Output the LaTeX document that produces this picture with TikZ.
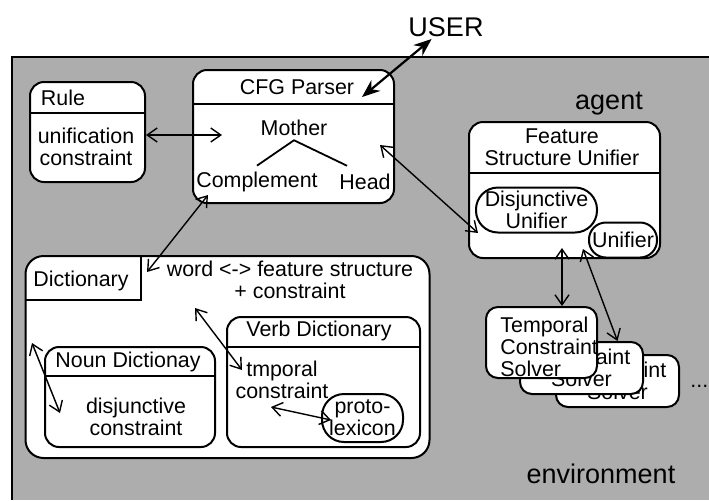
\documentclass[tikz,border=0pt]{standalone}
\usepackage{fontspec}
\setmainfont{Liberation Sans}
\usepackage{tikz}
\usetikzlibrary{arrows.meta}

\begin{document}
\begin{tikzpicture}[x=0.5pt,y=-0.5pt,
  every node/.style={font=\fontsize{10.7}{11}\selectfont,inner sep=1pt},
  unit/.style={draw,fill=white,line width=1pt,rounded corners=7pt},
  bubble/.style={draw,fill=white,line width=1pt,rounded corners=10pt,align=center,inner sep=0pt},
  big/.style={font=\fontsize{13.5}{15}\selectfont},
  link/.style={line width=0.7pt,{Straight Barb[length=5pt,width=7pt]}-{Straight Barb[length=5pt,width=7pt]}},
  userlink/.style={line width=1.1pt,{Stealth[length=9pt,width=7pt]}-{Stealth[length=9pt,width=7pt]}}]

\useasboundingbox (0,0) rectangle (709,500);
\fill[black!32] (12,57) rectangle (709,500);
\draw[line width=1pt] (12,500) -- (12,57) -- (709,57);

\node[big] (user) at (446,27) {USER};
\node[big] (agent) at (609,104) {agent};
\node[big] (env) at (601,474) {environment};

\node[unit,minimum width=57.5pt,minimum height=50pt] (rule) at (87.5,132) {};
\draw[line width=0.9pt] (rule.west |- 0,113) -- (rule.east |- 0,113);
\node (ruletitle) at (63,98) {Rule};
\node[align=center] (ruletxt) at (86,147) {unification\\constraint};

\node[unit,minimum width=100.5pt,minimum height=66.5pt] (cfg) at (293.5,136.5) {};
\draw[line width=0.9pt] (cfg.west |- 0,104) -- (cfg.east |- 0,104);
\node (cfgtitle) at (297,87) {CFG Parser};
\node (mother) at (294,128) {Mother};
\node (complement) at (257,182) {Complement};
\node (head) at (365,182) {Head};
\draw[line width=0.9pt] ([yshift=2pt]complement.north) -- ([yshift=-1pt]mother.south) -- ([xshift=5pt,yshift=3pt]head.north west);

\node[unit,minimum width=95.5pt,minimum height=68pt] (fsu) at (564.5,190) {};
\draw[line width=0.9pt] (fsu.west |- 0,173) -- (fsu.east |- 0,173);
\node[align=center] (fsutitle) at (562,147) {Feature\\Structure Unifier};
\node[bubble,minimum width=60.5pt,minimum height=22.5pt,rounded corners=11pt] (disj) at (536.5,210) {Disjunctive\\Unifier};
\node[bubble,minimum width=34pt,minimum height=17.5pt,rounded corners=8.5pt] (unifier) at (623,240) {Unifier};

\node[unit,rounded corners=9pt,minimum width=202pt,minimum height=101pt] (dict) at (227.5,357) {};
\draw[line width=1pt] (25,300) -- (141,300) -- (141,256);
\node (dicttitle) at (81,281) {Dictionary};
\node[align=center] (dicttxt) at (290,280) {word <-> feature structure\\+ constraint};

\node[unit,minimum width=85pt,minimum height=50pt] (noun) at (130,397) {};
\draw[line width=0.9pt] (noun.west |- 0,376) -- (noun.east |- 0,376);
\node (nountitle) at (128,362) {Noun Dictionay};
\node[align=center] (nountxt) at (136,417) {disjunctive\\constraint};

\node[unit,minimum width=96.5pt,minimum height=65pt] (verb) at (323.5,382) {};
\draw[line width=0.9pt] (verb.west |- 0,347) -- (verb.east |- 0,347);
\node (verbtitle) at (319,331) {Verb Dictionary};
\node[align=center] (tmporal) at (282,380) {tmporal\\constraint};
\node[bubble,minimum width=40.5pt,minimum height=24pt,rounded corners=11pt] (proto) at (362.5,418) {proto-\\lexicon};

\node[unit,rounded corners=6pt,minimum width=61.5pt,minimum height=26pt,align=center] (solver3) at (617.5,381) {Constraint\\Solver};
\node[unit,rounded corners=6pt,minimum width=61.5pt,minimum height=26pt,align=center] (solver2) at (581.5,368) {Constraint\\Solver};
\node[unit,rounded corners=6pt,minimum width=55.5pt,minimum height=35.5pt] (tcs) at (541.5,342.5) {};
\node[anchor=west,align=left] (tcstxt) at (498,347) {Temporal\\Constraint\\Solver};
\node[anchor=west] (more) at (688,386) {...};

\coordinate (userend) at (362,97);
\coordinate (motherin) at (222,135);
\coordinate (headin) at (380,145);
\coordinate (fsuin) at (478,233);
\coordinate (cfgin) at (208,195);
\coordinate (dictin) at (147,272);
\coordinate (wordin) at (195,308);
\coordinate (tmpin) at (242,370);
\coordinate (dictleft) at (32,343);
\coordinate (nounin) at (60,413);
\coordinate (tmpout) at (271,407);
\coordinate (fsuout) at (562,248);
\coordinate (fsuout2) at (583,249);

\draw[userlink] (user) -- (userend);
\draw[link] ([yshift=-1.5pt]rule.east) -- (motherin);
\draw[link] (headin) -- (fsuin);
\draw[link] (cfgin) -- (dictin);
\draw[link] (wordin) -- (tmpin);
\draw[link] (dictleft) -- (nounin);
\draw[link] (tmpout) -- ([xshift=5pt,yshift=-1pt]proto.west);
\draw[link] (fsuout) -- (fsuout |- tcs.north);
\draw[link] (fsuout2) -- ([xshift=18pt]solver2.north);
\end{tikzpicture}
\end{document}
